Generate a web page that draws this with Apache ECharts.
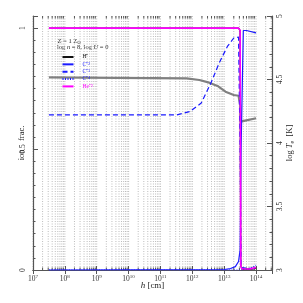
<!DOCTYPE html>
<html><head><meta charset="utf-8">
<script src="https://cdn.jsdelivr.net/npm/echarts@6/dist/echarts.min.js"></script>
<style>html,body{margin:0;padding:0;background:#fff}#c{width:303px;height:303px}</style>
</head><body><div id="c"></div>
<script>
// log10(h [cm]) sample positions and values
const hHp   = [7.5, 13.45, 13.5, 13.52, 13.55, 13.8, 14.0];
const fHp   = [1.0, 1.0, 0.99, 0.02, 0.005, 0.004, 0.008];
const hC2   = [7.5, 13.0, 13.2, 13.35, 13.45, 13.5, 13.53, 13.6, 13.7, 14.0];
const fC2   = [0.0, 0.002, 0.006, 0.014, 0.035, 0.083, 0.5, 0.99, 0.99, 0.98];
const hC3   = [7.5, 11.51, 11.92, 12.28, 12.58, 12.84, 13.10, 13.30, 13.45, 13.5, 13.53, 14.0];
const fC3   = [0.641, 0.641, 0.655, 0.69, 0.772, 0.855, 0.924, 0.959, 0.963, 0.5, 0.01, 0.005];
const hC4   = [7.5, 13.5, 13.8, 14.0];
const fC4   = [0.0, 0.0, 0.005, 0.02];
const hHe2  = [7.5, 13.45, 13.5, 13.52, 13.55, 13.8, 14.0];
const fHe2  = [1.0, 1.0, 0.99, 0.02, 0.005, 0.004, 0.01];
const hTe   = [7.5, 11.82, 12.22, 12.53, 12.79, 13.04, 13.30, 13.45, 13.5, 13.52, 13.66, 14.0];
const logTe = [4.517, 4.509, 4.496, 4.475, 4.449, 4.404, 4.378, 4.372, 4.30, 4.168, 4.176, 4.195];
const xTickLabels = ['7','8','9','10','11','12','13','14'];
const yLeftLabels = [0, 0.5, 1];
const yRightLabels = [3, 3.5, 4, 4.5, 5];

const pair = (xs, ys) => xs.map((x, i) => [x, ys[i]]);
// gridline positions at k*10^n (axis decoration)
const grid = [];
for (let n = 7; n <= 14; n++) for (let k = 1; k <= 9; k++) {
  const v = n + Math.log10(k); if (v <= 14.5) grid.push([v, k === 1 ? 1 : 0]);
}
const FONT = 'Liberation Serif';
const AX = '#555';
const BLUE = '#1a1aff';
const chart = echarts.init(document.getElementById('c'));
chart.setOption({
  animation: false,
  grid: {left: 33, right: 25.3, top: 16, bottom: 33},
  textStyle: {fontFamily: FONT},
  graphic: [
    {type: 'text', left: 57.5, top: 37.5, style: {text: '{n|Z = 1 Z}{s|⊙}', rich: {n: {fontSize: 6.5, fontFamily: FONT, fill: '#222'}, s: {fontSize: 4.5, fontFamily: FONT, fill: '#222', padding: [4, 0, 0, 0]}}}},
    {type: 'text', left: 57, top: 44, style: {text: '{n|log }{i|n}{n| = 8, log }{i|U}{n| = 0}', rich: {n: {fontSize: 6.5, fontFamily: FONT, fill: '#222'}, i: {fontSize: 6.5, fontFamily: FONT, fontStyle: 'italic', fill: '#222'}}}}
  ],
  legend: {
    orient: 'vertical', left: 61.5, top: 54, padding: 0, itemWidth: 11, itemHeight: 6, itemGap: 1.35,
    itemStyle: {opacity: 0},
    textStyle: {fontSize: 5.5, fontFamily: FONT, lineHeight: 6, padding: [0, 0, 0, 4]},
    data: [
      {name: 'H⁺', textStyle: {color: '#111'}},
      {name: 'C⁺²', textStyle: {color: BLUE}},
      {name: 'C⁺³', textStyle: {color: BLUE}},
      {name: 'C⁺⁴', textStyle: {color: BLUE}},
      {name: 'He⁺²', textStyle: {color: '#ff00ff'}}
    ]
  },
  xAxis: [
    {type: 'value', min: 7, max: 14.5, interval: 1, position: 'bottom',
     name: '{i|h} [cm]', nameLocation: 'middle', nameGap: 11, nameMoveOverlap: false,
     nameTextStyle: {fontSize: 9, fontFamily: FONT, color: '#222', rich: {i: {fontStyle: 'italic', fontSize: 9, fontFamily: FONT, color: '#222'}}},
     axisLine: {lineStyle: {color: AX, width: 1.2}},
     axisTick: {inside: true, length: 4, lineStyle: {color: AX}},
     splitLine: {show: false},
     axisLabel: {margin: 4, color: '#333', fontFamily: FONT,
       formatter: v => Number.isInteger(v) && xTickLabels.includes(String(v)) ? '{b|10}{s|' + v + '}' : '',
       rich: {b: {fontSize: 7.5, fontFamily: FONT, color: '#333'}, s: {fontSize: 5, fontFamily: FONT, color: '#333', padding: [0, 0, 5, 0]}}}},
    {type: 'value', min: 7, max: 14.5, interval: 1, position: 'top',
     axisLine: {lineStyle: {color: AX, width: 1.2}},
     axisTick: {inside: true, length: 4, lineStyle: {color: AX}},
     axisLabel: {show: false}, splitLine: {show: false}}
  ],
  yAxis: [
    {type: 'value', min: 0, max: 1.05, interval: 0.5, position: 'left',
     name: 'ion    frac.', nameLocation: 'middle', nameGap: 6.5, nameRotate: 90, nameMoveOverlap: false,
     nameTextStyle: {fontSize: 8.5, fontFamily: FONT, color: '#222'},
     axisLine: {lineStyle: {color: AX, width: 1.2}},
     axisTick: {inside: true, length: 5, lineStyle: {color: AX}},
     splitLine: {show: false},
     axisLabel: {rotate: 90, margin: 6, fontSize: 7.5, color: '#333', fontFamily: FONT,
       formatter: v => { const f = yLeftLabels.find(l => Math.abs(l - v) < 1e-6); return f === undefined ? '' : String(f); }}},
    {type: 'value', min: 3, max: 5, interval: 0.1, position: 'right',
     axisLine: {lineStyle: {color: AX, width: 1.2}},
     axisTick: {inside: true, length: 2.5, lineStyle: {color: AX}},
     axisLabel: {show: false}, splitLine: {show: false}},
    {type: 'value', min: 3, max: 5, interval: 0.5, position: 'right',
     name: '{n|log }{i|T}{s|e}{n|  [K]}', nameLocation: 'middle', nameGap: 13, nameRotate: 90, nameMoveOverlap: false,
     nameTextStyle: {rich: {n: {fontSize: 8.5, fontFamily: FONT, color: '#222'}, i: {fontSize: 8.5, fontFamily: FONT, fontStyle: 'italic', color: '#222'}, s: {fontSize: 6, fontFamily: FONT, color: '#222', padding: [4, 0, 0, 0]}}},
     axisLine: {show: false},
     axisTick: {inside: true, length: 5, lineStyle: {color: AX}},
     splitLine: {show: false},
     axisLabel: {rotate: 90, margin: 4, fontSize: 7.5, color: '#333', fontFamily: FONT,
       formatter: v => { const f = yRightLabels.find(l => Math.abs(l - v) < 1e-6); return f === undefined ? '' : String(f); }}},
    {type: 'value', min: 0, max: 1.05, interval: 0.05, position: 'left',
     axisLine: {show: false},
     axisTick: {inside: true, length: 2.5, lineStyle: {color: AX}},
     axisLabel: {show: false}, splitLine: {show: false}}
  ],
  series: [
    {type: 'custom', silent: true, z: 0, xAxisIndex: 0, yAxisIndex: 0, data: grid,
     renderItem: (params, api) => {
       const cs = params.coordSys; const x = api.coord([api.value(0), 0])[0];
       const major = api.value(1) === 1; const tl = 2.5;
       const ch = [{type: 'line', shape: {x1: x, y1: cs.y, x2: x, y2: cs.y + cs.height}, style: {stroke: '#bdbdbd', lineWidth: 1, lineDash: [1, 1.5]}}];
       if (!major) {
         ch.push({type: 'line', shape: {x1: x, y1: cs.y + cs.height, x2: x, y2: cs.y + cs.height - tl}, style: {stroke: AX, lineWidth: 1}});
         ch.push({type: 'line', shape: {x1: x, y1: cs.y, x2: x, y2: cs.y + tl}, style: {stroke: AX, lineWidth: 1}});
       }
       return {type: 'group', children: ch};
     }},
    {name: 'H⁺', type: 'line', symbol: 'none', yAxisIndex: 0, data: pair(hHp, fHp), lineStyle: {color: '#111', width: 1.3}, itemStyle: {color: '#111'}, z: 3},
    {name: 'C⁺²', type: 'line', symbol: 'none', yAxisIndex: 0, data: pair(hC2, fC2), lineStyle: {color: BLUE, width: 1.2}, itemStyle: {color: BLUE}, z: 4},
    {name: 'C⁺³', type: 'line', symbol: 'none', yAxisIndex: 0, data: pair(hC3, fC3), lineStyle: {color: BLUE, width: 1.2, type: [5, 3]}, itemStyle: {color: BLUE}, z: 4},
    {name: 'C⁺⁴', type: 'line', symbol: 'none', yAxisIndex: 0, data: pair(hC4, fC4), lineStyle: {color: BLUE, width: 1.2, type: [1, 1.5]}, itemStyle: {color: BLUE}, z: 4},
    {name: 'He⁺²', type: 'line', symbol: 'none', yAxisIndex: 0, data: pair(hHe2, fHe2), lineStyle: {color: '#ff00ff', width: 1.6}, itemStyle: {color: '#ff00ff'}, z: 5},
    {name: 'Te', type: 'line', symbol: 'none', yAxisIndex: 2, data: pair(hTe, logTe), lineStyle: {color: '#808080', width: 2.2}, itemStyle: {color: '#808080'}, z: 3}
  ]
});
</script></body></html>
